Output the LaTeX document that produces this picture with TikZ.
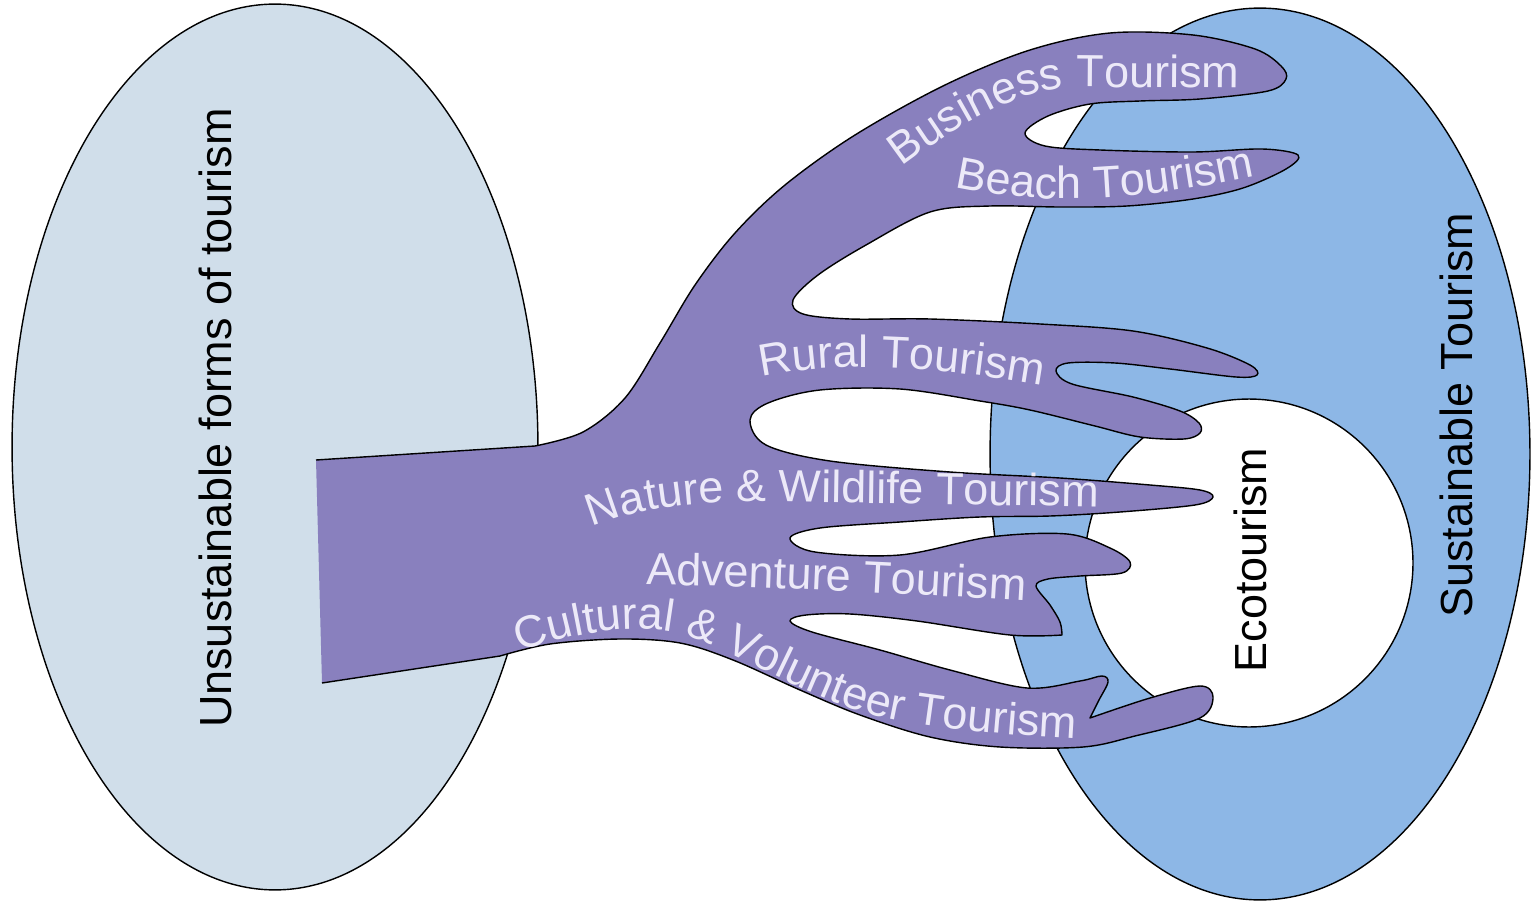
\documentclass[tikz,border=0pt]{standalone}
\usepackage{fontspec}
\setmainfont{Liberation Sans}
\usetikzlibrary{decorations.text}
\definecolor{lightpanel}{RGB}{208,222,234}
\definecolor{sustblue}{RGB}{141,183,230}
\definecolor{handpurple}{RGB}{137,128,190}
\definecolor{fingertext}{RGB}{236,233,248}
\newcommand\mylabelfont{\fontsize{25.6pt}{30pt}\selectfont}
\begin{document}
\begin{tikzpicture}[x=0.02cm,y=-0.02cm,
  outline/.style={draw=black,line width=0.8pt,line join=round},
  mainlabel/.style={font=\mylabelfont,inner sep=0pt,text=black,rotate=90},
  fingerlabel/.style={decorate,decoration={text along path,text color=fingertext}}]
\useasboundingbox (0,0) rectangle (1533,905);
\fill[white] (0,0) rectangle (1533,905);
% ellipses
\filldraw[fill=lightpanel,outline] (275,447) ellipse [x radius=5.26cm,y radius=8.86cm];
\filldraw[fill=sustblue,outline] (1260,454) ellipse [x radius=5.4cm,y radius=8.92cm];
\filldraw[fill=white,outline] (1249,563) circle [radius=3.28cm];
% hand shape
\filldraw[fill=handpurple,outline] (316,460) -- (535,446)
 -- plot[smooth,tension=0.55] coordinates {(535,446) (583,432) (625,398) (660,343) (695,285) (735,233) (785,185) (855,135) (945,85) (1030,50) (1110,33) (1193,35) (1255,49) (1281,66) (1286,79) (1268,91) (1200,99) (1140,101) (1090,104) (1048,116) (1025,133) (1045,146) (1100,150) (1193,152) (1262,149) (1298,155) (1286,169) (1243,188) (1193,199) (1127,206) (1060,207) (990,206) (930,212) (866,245) (818,275) (793,300) (803,314) (850,319) (930,319) (1040,324) (1133,331) (1207,348) (1250,365) (1257,375) (1236,377) (1170,369) (1115,363) (1068,363) (1056,371) (1072,384) (1133,397) (1180,411) (1199,423) (1200,433) (1184,439) (1140,437) (1095,426) (1030,410) (980,401) (900,389) (820,390) (768,403) (750,420) (766,445) (830,461) (950,472) (1060,478) (1150,485) (1200,490) (1213,497) (1195,505) (1120,512) (1050,516) (980,517) (900,522) (820,528) (790,538) (815,552) (900,555) (990,537) (1067,534) (1110,548) (1130,562) (1122,573) (1080,576) (1048,579) (1036,586) (1050,605) (1060,622) (1062,635)}
 -- plot[smooth,tension=0.55] coordinates {(1062,635) (1010,635) (917,621) (850,614) (806,615) (790,621) (812,632) (880,650) (950,670) (1027,688) (1080,681) (1102,676) (1108,682) (1099,700) (1090,718)}
 -- plot[smooth,tension=0.55] coordinates {(1090,718) (1150,698) (1200,686) (1213,697) (1200,718) (1135,736) (1083,747) (1000,747) (930,737) (860,715) (800,690) (733,660) (680,643) (620,639) (550,644) (500,656)}
 -- (322,683);
% finger labels
\path[fingerlabel,decoration={text={|\mylabelfont|Business Tourism}}]
  (902,167) .. controls (965,120) and (1020,88) .. (1080,87) -- (1330,89);
\path[fingerlabel,decoration={text={|\mylabelfont|Beach Tourism}}]
  (955,187) .. controls (1030,203) and (1120,208) .. (1290,168);
\path[fingerlabel,decoration={text={|\mylabelfont|Rural Tourism}}]
  (762,377) .. controls (830,362) and (930,362) .. (1090,394);
\path[fingerlabel,decoration={text={|\mylabelfont|Nature {\&} Wildlife Tourism}}]
  (592,527) .. controls (640,507) and (700,500) .. (780,502) -- (1170,508);
\path[fingerlabel,decoration={text={|\mylabelfont|Adventure Tourism}}]
  (646,585) .. controls (760,586) and (900,593) .. (1090,605);
\path[fingerlabel,decoration={text={|\mylabelfont|Cultural {\&} Volunteer Tourism}}]
  (520,652) .. controls (580,630) and (650,620) .. (700,640) .. controls (760,665) and (830,710) .. (905,722) .. controls (960,731) and (1030,738) .. (1160,742);
% main labels
\node[mainlabel] (unsust) at (215,418) {Unsustainable forms of tourism};
\node[mainlabel] (sust) at (1456,415) {Sustainable Tourism};
\node[mainlabel] (eco) at (1250,560) {Ecotourism};
\end{tikzpicture}
\end{document}
